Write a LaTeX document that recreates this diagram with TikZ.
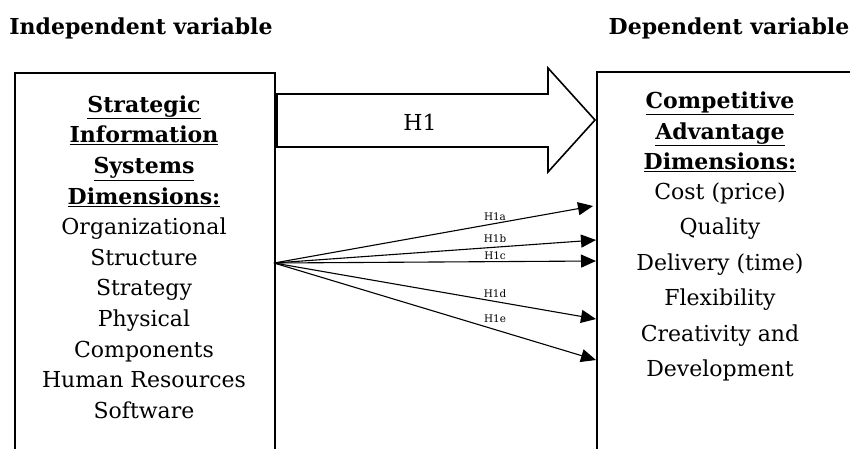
\documentclass[tikz,border=0pt]{standalone}
\usepackage{fontspec}
\setmainfont{DejaVu Serif}
\usetikzlibrary{arrows.meta}
\begin{document}
\begin{tikzpicture}[x=1pt,y=-1pt,
  box/.style={draw, line width=1.6pt, minimum height=420pt, anchor=north west, inner sep=0pt},
  heading/.style={font=\fontsize{22}{26}\selectfont\bfseries, inner sep=0pt},
  boxtext/.style={align=center, inner sep=0pt, font=\fontsize{22}{30.6}\selectfont},
  hyp/.style={font=\fontsize{10.4}{11}\selectfont, inner sep=0pt},
  link/.style={-{Triangle[length=15pt,width=13pt]}, line width=1.1pt},
  bigarrow/.style={draw, line width=1.6pt, line join=miter}
]
\useasboundingbox (0,0) rectangle (850,448);
\clip (0,0) rectangle (850,448);

\node[heading] (indep) at (141,28) {Independent variable};
\node[heading] (dep) at (729,28) {Dependent variable};

\node[box, minimum width=260pt] (sisbox) at (14,72) {};
\node[box, minimum width=300pt] (cabox) at (596,71) {};

\node[boxtext] (sistext) at (144,257) {\textbf{\underline{Strategic}}\\ \textbf{\underline{Information}}\\ \textbf{\underline{Systems}}\\ \textbf{\underline{Dimensions:}}\\ Organizational\\ Structure\\ Strategy\\ Physical\\ Components\\ Human Resources\\ Software};

\node[boxtext] (cahead) at (720,132) {\textbf{\underline{Competitive}}\\ \textbf{\underline{Advantage}}\\ \textbf{\underline{Dimensions:}}};
\node[boxtext, font=\fontsize{22}{35.4}\selectfont] (calist) at (720,282) {Cost (price)\\ Quality\\ Delivery (time)\\ Flexibility\\ Creativity and\\ Development};

\draw[bigarrow] (277,94) -- (548,94) -- (548,68) -- (595,120) -- (548,172) -- (548,147) -- (277,147) -- cycle;
\node[font=\fontsize{22}{24}\selectfont, inner sep=0pt] (h1) at (420,122) {H1};

\coordinate (src) at (274,263);
\coordinate (ta) at (593,206);
\coordinate (tb) at (596,240);
\coordinate (tc) at (596,261);
\coordinate (td) at (596,319);
\coordinate (te) at (596,360);
\draw[link] (src) -- (ta);
\draw[link] (src) -- (tb);
\draw[link] (src) -- (tc);
\draw[link] (src) -- (td);
\draw[link] (src) -- (te);
\node[hyp] (la) at (495,217) {H1a};
\node[hyp] (lb) at (495,239) {H1b};
\node[hyp] (lc) at (495,256) {H1c};
\node[hyp] (ld) at (495,294) {H1d};
\node[hyp] (le) at (495,319) {H1e};
\end{tikzpicture}
\end{document}
